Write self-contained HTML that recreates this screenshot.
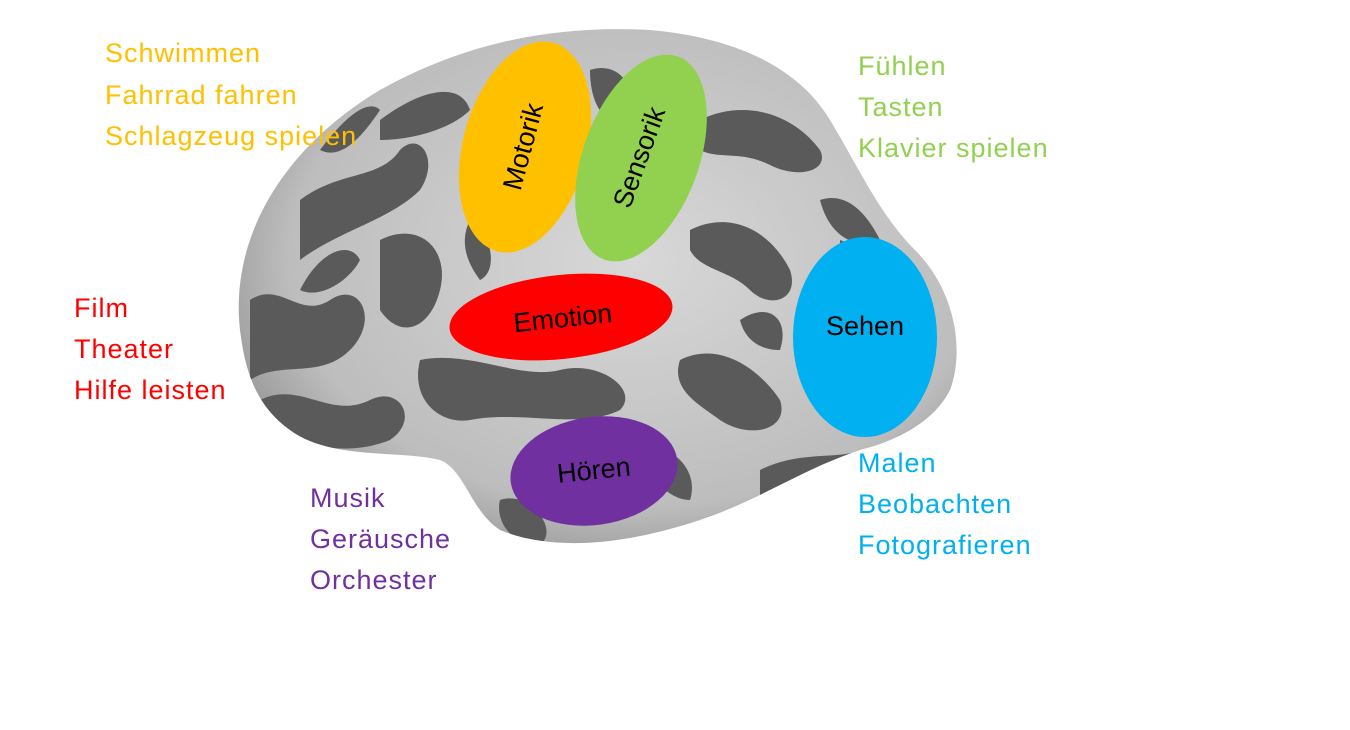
<!DOCTYPE html>
<html><head><meta charset="utf-8"><style>
html,body{margin:0;padding:0;background:#fff;}
svg{display:block}
text{font-family:"Liberation Sans",sans-serif;}
</style></head><body>
<svg width="1350" height="730" viewBox="0 0 1350 730" xmlns="http://www.w3.org/2000/svg">
<defs>
<radialGradient id="g" cx="0.55" cy="0.45" r="0.6">
<stop offset="0" stop-color="#d8d8d8"/><stop offset="0.8" stop-color="#bdbdbd"/><stop offset="1" stop-color="#9a9a9a"/>
</radialGradient>
<clipPath id="bc"><path id="brain" d="M240,330 C230,240 280,150 380,90 C470,40 560,25 650,30 C740,38 800,70 830,120 C860,170 880,215 915,250 C955,290 965,350 950,390 C935,420 900,440 860,450 C800,470 760,500 700,520 C640,540 560,555 500,530 C470,510 465,470 440,460 C400,450 330,460 290,430 C255,405 245,370 240,330 Z"/></clipPath>
</defs>
<use href="#brain" fill="url(#g)"/>
<g clip-path="url(#bc)" fill="#5a5a5a">
<path d="M300,200 C340,170 380,180 400,150 C420,130 440,160 420,190 C390,220 340,230 300,260 Z"/>
<path d="M250,300 C280,280 300,320 330,300 C360,280 380,320 350,350 C320,380 280,360 250,380 Z"/>
<path d="M260,400 C300,380 330,420 370,400 C400,385 420,420 390,440 C340,460 290,440 260,430 Z"/>
<path d="M380,240 C420,220 450,250 440,290 C430,330 400,340 380,310 Z"/>
<path d="M420,360 C470,350 520,380 560,370 C600,360 640,390 620,410 C580,430 520,410 470,420 C440,425 410,400 420,360 Z"/>
<path d="M700,120 C740,100 790,110 820,150 C830,170 800,180 770,165 C740,150 720,160 700,150 Z"/>
<path d="M690,230 C730,210 770,230 790,270 C800,300 770,310 750,290 C730,270 700,270 690,250 Z"/>
<path d="M680,360 C720,340 760,370 780,400 C790,430 750,440 720,420 C700,405 670,390 680,360 Z"/>
<path d="M760,470 C800,450 840,460 860,450 C850,480 800,500 760,500 Z"/>
<path d="M590,70 C620,60 640,90 630,120 C610,130 590,110 590,70 Z"/>
<path d="M380,120 C420,90 460,80 470,110 C450,130 410,140 380,140 Z"/>
<path d="M500,500 C530,490 560,530 540,545 C510,545 495,520 500,500 Z"/>
<path d="M820,200 C850,190 870,220 880,240 C860,250 830,240 820,200 Z"/>
<path d="M300,290 C320,250 350,240 360,260 C350,280 320,300 300,290 Z"/>
<path d="M470,220 C490,230 500,270 480,280 C465,260 460,240 470,220 Z"/>
<path d="M740,320 C770,300 790,320 780,350 C760,350 745,340 740,320 Z"/>
<path d="M840,240 C870,250 890,290 880,300 C860,290 840,270 840,240 Z"/>
<path d="M640,450 C670,440 700,470 690,500 C670,500 650,480 640,450 Z"/>
<path d="M320,150 C350,110 370,100 380,110 C360,140 340,160 320,150 Z"/>
</g>
<g transform="rotate(15 525 147)"><ellipse cx="525" cy="147" rx="62" ry="108" fill="#FFC000"/></g>
<text x="525" y="147" font-size="27" text-anchor="middle" dominant-baseline="middle" transform="rotate(-75 525 147)">Motorik</text>
<g transform="rotate(20 641 158)"><ellipse cx="641" cy="158" rx="58" ry="108" fill="#92D050"/></g>
<text x="641" y="158" font-size="27" text-anchor="middle" dominant-baseline="middle" transform="rotate(-70 641 158)">Sensorik</text>
<ellipse cx="561" cy="317" rx="112" ry="42" fill="#FF0000" transform="rotate(-6 561 317)"/>
<text x="563" y="320" font-size="27" text-anchor="middle" dominant-baseline="middle" transform="rotate(-6 563 320)">Emotion</text>
<ellipse cx="865" cy="337" rx="72" ry="100" fill="#00B0F0"/>
<text x="865" y="328" font-size="27" text-anchor="middle" dominant-baseline="middle">Sehen</text>
<ellipse cx="594" cy="471" rx="84" ry="54" fill="#7030A0" transform="rotate(-8 594 471)"/>
<text x="594" y="472" font-size="27" text-anchor="middle" dominant-baseline="middle" transform="rotate(-6 594 472)">Hören</text>
<g font-size="27" letter-spacing="1" fill="#FFC000"><text x="105" y="62">Schwimmen</text><text x="105" y="104">Fahrrad fahren</text><text x="105" y="145">Schlagzeug spielen</text></g>
<g font-size="27" letter-spacing="1" fill="#92D050"><text x="858" y="75">Fühlen</text><text x="858" y="116">Tasten</text><text x="858" y="157">Klavier spielen</text></g>
<g font-size="27" letter-spacing="1" fill="#FF0000"><text x="74" y="317">Film</text><text x="74" y="358">Theater</text><text x="74" y="399">Hilfe leisten</text></g>
<g font-size="27" letter-spacing="1" fill="#7030A0"><text x="310" y="507">Musik</text><text x="310" y="548">Geräusche</text><text x="310" y="589">Orchester</text></g>
<g font-size="27" letter-spacing="1" fill="#00B0F0"><text x="858" y="472">Malen</text><text x="858" y="513">Beobachten</text><text x="858" y="554">Fotografieren</text></g>
</svg>
</body></html>
